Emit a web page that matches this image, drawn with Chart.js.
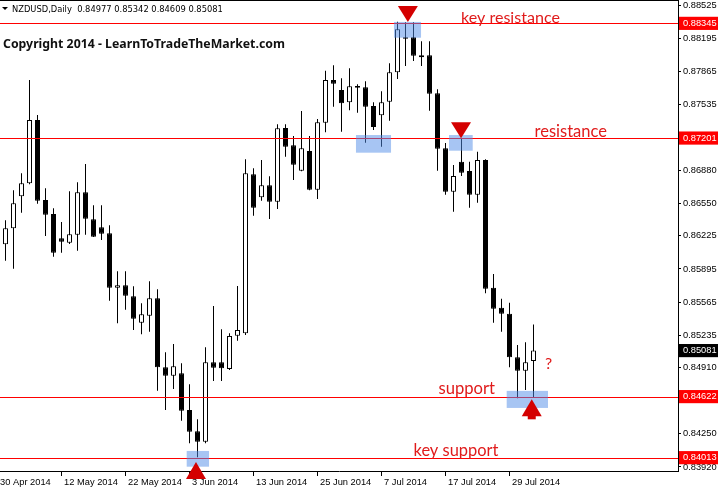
<!DOCTYPE html>
<html>
<head>
<meta charset="utf-8">
<script src="https://cdn.jsdelivr.net/npm/chart.js@4.4.0/dist/chart.umd.min.js"></script>
<style>
  html, body { margin: 0; padding: 0; background: #fff; }
  #wrap { width: 718px; height: 487px; position: relative; }
</style>
</head>
<body>
<div id="wrap"><canvas id="chart"></canvas></div>
<script>
// daily candles, NZDUSD (30 Apr sits just left of the visible area)
const dates = [
  '30 Apr 2014', '1 May 2014', '2 May 2014', '5 May 2014', '6 May 2014', '7 May 2014', '8 May 2014', '9 May 2014',
  '12 May 2014', '13 May 2014', '14 May 2014', '15 May 2014', '16 May 2014', '19 May 2014', '20 May 2014', '21 May 2014',
  '22 May 2014', '23 May 2014', '26 May 2014', '27 May 2014', '28 May 2014', '29 May 2014', '30 May 2014', '2 Jun 2014',
  '3 Jun 2014', '4 Jun 2014', '5 Jun 2014', '6 Jun 2014', '9 Jun 2014', '10 Jun 2014', '11 Jun 2014', '12 Jun 2014',
  '13 Jun 2014', '16 Jun 2014', '17 Jun 2014', '18 Jun 2014', '19 Jun 2014', '20 Jun 2014', '23 Jun 2014', '24 Jun 2014',
  '25 Jun 2014', '26 Jun 2014', '27 Jun 2014', '30 Jun 2014', '1 Jul 2014', '2 Jul 2014', '3 Jul 2014', '4 Jul 2014',
  '7 Jul 2014', '8 Jul 2014', '9 Jul 2014', '10 Jul 2014', '11 Jul 2014', '14 Jul 2014', '15 Jul 2014', '16 Jul 2014',
  '17 Jul 2014', '18 Jul 2014', '21 Jul 2014', '22 Jul 2014', '23 Jul 2014', '24 Jul 2014', '25 Jul 2014', '28 Jul 2014',
  '29 Jul 2014', '30 Jul 2014', '31 Jul 2014', '1 Aug 2014'
];
const openP = [
  0.85960, 0.86141, 0.86301, 0.86620, 0.86750, 0.87381, 0.86583, 0.86444,
  0.86201, 0.86157, 0.86237, 0.86660, 0.86391, 0.86311, 0.86251, 0.85709,
  0.85733, 0.85623, 0.85359, 0.85429, 0.85603, 0.84915, 0.84831, 0.84855,
  0.84489, 0.84276, 0.84172, 0.84964, 0.84964, 0.84898, 0.85230, 0.85254,
  0.86840, 0.86610, 0.86730, 0.86566, 0.87301, 0.87129, 0.86875, 0.87072,
  0.86686, 0.87354, 0.87780, 0.87680, 0.87558, 0.87720, 0.87707, 0.87521,
  0.87428, 0.87564, 0.87857, 0.88206, 0.88206, 0.88007, 0.88026, 0.87647,
  0.87099, 0.86666, 0.86965, 0.86872, 0.86636, 0.86982, 0.85709, 0.85509,
  0.85449, 0.85014, 0.84881, 0.84977
];
const highP = [
  0.86250, 0.86381, 0.86680, 0.86850, 0.87780, 0.87431, 0.86700, 0.86500,
  0.86364, 0.86670, 0.86760, 0.86942, 0.86530, 0.86530, 0.86331, 0.85872,
  0.85872, 0.85722, 0.85553, 0.85772, 0.85693, 0.85064, 0.85147, 0.84954,
  0.84745, 0.84396, 0.85114, 0.85526, 0.85294, 0.85254, 0.85725, 0.86989,
  0.86899, 0.86982, 0.86820, 0.87338, 0.87338, 0.87222, 0.87471, 0.87222,
  0.87391, 0.87873, 0.87927, 0.87797, 0.87897, 0.87737, 0.87767, 0.87558,
  0.87667, 0.87947, 0.88362, 0.88356, 0.88356, 0.88166, 0.88166, 0.87687,
  0.87152, 0.86932, 0.87199, 0.86965, 0.87065, 0.86990, 0.85845, 0.85599,
  0.85559, 0.85137, 0.85164, 0.85342
];
const lowP = [
  0.85800, 0.85978, 0.85898, 0.86457, 0.86740, 0.86546, 0.86224, 0.86018,
  0.86058, 0.86144, 0.86078, 0.86237, 0.86214, 0.86184, 0.85579, 0.85353,
  0.85489, 0.85287, 0.85244, 0.85270, 0.84681, 0.84489, 0.84698, 0.84382,
  0.84157, 0.84017, 0.84157, 0.84778, 0.84778, 0.84888, 0.85180, 0.85237,
  0.86427, 0.86576, 0.86394, 0.86493, 0.87015, 0.86783, 0.86870, 0.86680,
  0.86593, 0.87258, 0.87514, 0.87264, 0.87478, 0.87454, 0.87155, 0.87281,
  0.87115, 0.87374, 0.87790, 0.87920, 0.87970, 0.87920, 0.87474, 0.86875,
  0.86636, 0.86466, 0.86823, 0.86506, 0.86556, 0.85653, 0.85359, 0.85270,
  0.84915, 0.84605, 0.84688, 0.84609
];
const closeP = [
  0.86140, 0.86301, 0.86550, 0.86750, 0.87381, 0.86576, 0.86437, 0.86058,
  0.86167, 0.86241, 0.86660, 0.86397, 0.86217, 0.86247, 0.85709, 0.85733,
  0.85629, 0.85399, 0.85443, 0.85603, 0.84915, 0.84831, 0.84925, 0.84482,
  0.84272, 0.84172, 0.84964, 0.84911, 0.84905, 0.85227, 0.85287, 0.86850,
  0.86506, 0.86730, 0.86566, 0.87298, 0.87115, 0.86935, 0.87099, 0.86686,
  0.87358, 0.87780, 0.87743, 0.87548, 0.87717, 0.87703, 0.87514, 0.87311,
  0.87558, 0.87857, 0.88286, 0.88192, 0.88022, 0.88026, 0.87643, 0.87095,
  0.86666, 0.86823, 0.86855, 0.86636, 0.86982, 0.85699, 0.85499, 0.85449,
  0.85014, 0.84881, 0.84964, 0.85081
];

const xTickLabels = ['30 Apr 2014', '12 May 2014', '22 May 2014', '3 Jun 2014', '13 Jun 2014',
  '25 Jun 2014', '7 Jul 2014', '17 Jul 2014', '29 Jul 2014'];
const yTicks = [0.88525, 0.88195, 0.87865, 0.87535, 0.86880, 0.86550, 0.86225, 0.85895,
  0.85565, 0.85235, 0.84910, 0.84580, 0.84250, 0.83920];
const levels = [0.88345, 0.87201, 0.84622, 0.84013];
const lastPrice = 0.85081;
const header = 'NZDUSD,Daily  0.84977 0.85342 0.84609 0.85081';

// drawn-on notes (index / price anchored)
const zones = [
  { i0: 49.56, i1: 52.94, p0: 0.88359, p1: 0.88202 },
  { i0: 44.81, i1: 49.19, p0: 0.87231, p1: 0.87055 },
  { i0: 56.44, i1: 59.40, p0: 0.87231, p1: 0.87075 },
  { i0: 23.65, i1: 26.44, p0: 0.84080, p1: 0.83923 },
  { i0: 63.65, i1: 68.81, p0: 0.84679, p1: 0.84509 }
];
const markers = [
  { i: 51.3, p: 0.88359, dir: 'down' },
  { i: 57.94, p: 0.87199, dir: 'down' },
  { i: 24.81, p: 0.83970, dir: 'up' },
  { i: 66.78, p: 0.84595, dir: 'up', stem: true }
];
const notes = [
  { text: 'key resistance', x: 461, y: 23, w: 99 },
  { text: 'resistance', x: 534.5, y: 136.5, w: 72.5 },
  { text: 'support', x: 438.5, y: 394, w: 56.5 },
  { text: 'key support', x: 413.5, y: 456, w: 85 }
];

const isMark = v => levels.includes(v) || v === lastPrice;

function fitFont(ctx, text, weight, family, width) {
  ctx.font = weight + ' 20px ' + family;
  const w = ctx.measureText(text).width;
  return weight + ' ' + (20 * width / w).toFixed(2) + 'px ' + family;
}

const overlay = {
  id: 'overlay',
  afterDatasetsDraw(chart) {
    const { ctx, chartArea: a, scales: { x, y } } = chart;
    ctx.save();
    ctx.strokeStyle = '#ff0000';
    ctx.lineWidth = 1;
    levels.forEach(v => {
      const py = Math.round(y.getPixelForValue(v)) + 0.5;
      ctx.beginPath();
      ctx.moveTo(a.left, py);
      ctx.lineTo(a.right, py);
      ctx.stroke();
    });
    ctx.fillStyle = 'rgba(80,140,232,0.5)';
    zones.forEach(z => {
      const x0 = x.getPixelForValue(z.i0), x1 = x.getPixelForValue(z.i1);
      const y0 = y.getPixelForValue(z.p0), y1 = y.getPixelForValue(z.p1);
      ctx.fillRect(x0, y0, x1 - x0, y1 - y0);
    });
    ctx.restore();
  },
  afterDraw(chart) {
    const { ctx, chartArea: a, scales: { x, y } } = chart;
    ctx.save();
    // top frame
    ctx.fillStyle = '#000';
    ctx.fillRect(0, 0, a.right, 1);

    // arrows
    ctx.fillStyle = '#d40000';
    markers.forEach(m => {
      const px = x.getPixelForValue(m.i), py = y.getPixelForValue(m.p);
      const h = m.dir === 'down' ? -16 : 17;
      ctx.beginPath();
      ctx.moveTo(px, py);
      ctx.lineTo(px - 10, py + h);
      ctx.lineTo(px + 10, py + h);
      ctx.closePath();
      ctx.fill();
      if (m.stem) ctx.fillRect(px - 4, py + h - 1, 8, 4);
    });

    // header + copyright
    ctx.fillStyle = '#000';
    ctx.beginPath();
    ctx.moveTo(2, 7); ctx.lineTo(8, 7); ctx.lineTo(5, 10); ctx.closePath();
    ctx.fill();
    ctx.textBaseline = 'alphabetic';
    ctx.textAlign = 'left';
    ctx.font = fitFont(ctx, header, 'normal', '"DejaVu Sans"', 211);
    ctx.fillText(header, 12, 12);
    const copy = 'Copyright 2014 - LearnToTradeTheMarket.com';
    ctx.font = fitFont(ctx, copy, 'bold', '"Noto Sans"', 282);
    ctx.fillStyle = '#111';
    ctx.fillText(copy, 3, 48);

    // red notes
    ctx.fillStyle = '#e01b1b';
    notes.forEach(n => {
      ctx.font = fitFont(ctx, n.text, 'normal', 'Lato', n.w);
      ctx.fillText(n.text, n.x, n.y);
    });
    ctx.font = 'normal 16px Lato';
    ctx.fillText('?', 545, 369);
    ctx.restore();
  }
};

const ctx = document.getElementById('chart').getContext('2d');
new Chart(ctx, {
  type: 'bar',
  data: {
    datasets: [
      {
        // wicks
        data: dates.map((d, i) => ({ x: i, y: [lowP[i], highP[i]] })),
        backgroundColor: '#000',
        borderWidth: 0,
        barThickness: 1,
        grouped: false,
        inflateAmount: 0,
        order: 2
      },
      {
        // bodies
        data: dates.map((d, i) => ({ x: i, y: [openP[i], closeP[i]] })),
        backgroundColor: dates.map((d, i) => closeP[i] >= openP[i] ? '#fff' : '#000'),
        borderColor: '#000',
        borderWidth: 1,
        borderSkipped: false,
        barThickness: 5,
        grouped: false,
        inflateAmount: 0,
        order: 1
      }
    ]
  },
  options: {
    responsive: true,
    maintainAspectRatio: false,
    animation: false,
    layout: { padding: 0 },
    plugins: { legend: { display: false }, tooltip: { enabled: false } },
    scales: {
      x: {
        type: 'linear',
        offset: false,
        min: 0.3125,
        max: 85.0625,
        afterBuildTicks: s => { s.ticks = xTickLabels.map(l => ({ value: dates.indexOf(l) })); },
        afterFit: s => { s.height = 16; s.paddingLeft = 0; s.paddingRight = 0; },
        ticks: {
          autoSkip: false,
          maxRotation: 0,
          align: 'start',
          padding: 1,
          color: '#000',
          font: { family: '"Liberation Sans"', size: 9.3 },
          callback: v => ' ' + dates[v]
        },
        grid: { offset: false, drawOnChartArea: false, tickLength: 5, color: '#000' },
        border: { display: true, color: '#000', width: 1 }
      },
      y: {
        type: 'linear',
        position: 'right',
        min: 0.83880,
        max: 0.88578,
        afterBuildTicks: s => { s.ticks = yTicks.concat(levels, [lastPrice]).map(v => ({ value: v })); },
        afterFit: s => { s.width = 40; s.paddingTop = 0; s.paddingBottom = 0; },
        ticks: {
          autoSkip: false,
          padding: 2,
          font: { family: '"Liberation Sans"', size: 9.3 },
          color: c => isMark(c.tick.value) ? '#fff' : '#000',
          showLabelBackdrop: c => isMark(c.tick.value),
          backdropColor: c => c.tick.value === lastPrice ? '#000' : '#ff0000',
          backdropPadding: { left: 4, right: 6, top: 1, bottom: 1 },
          callback: v => v.toFixed(5)
        },
        grid: {
          drawOnChartArea: false,
          tickLength: 3,
          color: c => isMark(c.tick.value) ? 'rgba(0,0,0,0)' : '#000'
        },
        border: { display: true, color: '#000', width: 1 }
      }
    }
  },
  plugins: [overlay]
});
</script>
</body>
</html>
